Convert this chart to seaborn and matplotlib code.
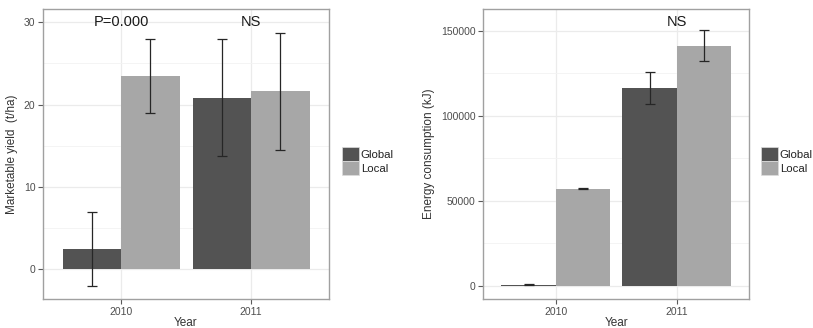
import matplotlib
matplotlib.use("Agg")
import matplotlib.pyplot as plt
from matplotlib.patches import Patch
from matplotlib.ticker import MultipleLocator, FuncFormatter
import seaborn as sns
import pandas as pd

# ---- data ----
years = ["2010", "2011"]
groups = ["Global", "Local"]

yield_global = [2.5, 20.8]
yield_global_lo = [-2.0, 13.7]
yield_global_hi = [7.0, 27.9]
yield_local = [23.5, 21.6]
yield_local_lo = [19.0, 14.5]
yield_local_hi = [27.9, 28.7]
yield_notes = ["P=0.000", "NS"]
yield_note_y = 30

energy_global = [600, 116500]
energy_global_lo = [400, 107100]
energy_global_hi = [800, 125600]
energy_local = [57100, 141100]
energy_local_lo = [56900, 131900]
energy_local_hi = [57300, 150400]
energy_notes = ["", "NS"]
energy_note_y = 155000

colors = {"Global": "#535353", "Local": "#a7a7a7"}

sns.set_theme(style="white")
plt.rcParams["font.family"] = ["Liberation Sans", "DejaVu Sans"]

fig = plt.figure(figsize=(8.13, 3.28), dpi=100)
ax1 = fig.add_axes([43 / 813, 1 - 299 / 328, 286 / 813, 290 / 328])
ax2 = fig.add_axes([483.3 / 813, 1 - 299 / 328, 266 / 813, 290 / 328])


def panel(ax, g, g_lo, g_hi, l, l_lo, l_hi, notes, note_y, ylabel, major, minor,
          legend_x):
    df = pd.DataFrame({
        "Year": years * 2,
        "Group": [groups[0]] * len(years) + [groups[1]] * len(years),
        "value": list(g) + list(l),
    })
    sns.barplot(data=df, x="Year", y="value", hue="Group", order=years,
                hue_order=groups, palette=colors, errorbar=None,
                linewidth=0, saturation=1, width=0.9, ax=ax, zorder=2)
    los = {"Global": g_lo, "Local": l_lo}
    his = {"Global": g_hi, "Local": l_hi}
    for cont, grp in zip(ax.containers, groups):
        for bar, lo, hi in zip(cont.patches, los[grp], his[grp]):
            xc = bar.get_x() + bar.get_width() / 2
            mid = (lo + hi) / 2
            ax.errorbar(xc, mid, yerr=[[mid - lo], [hi - mid]], fmt="none",
                        ecolor="#262626", elinewidth=0.9, capsize=3.6,
                        capthick=0.9, zorder=3)
    for i, t in enumerate(notes):
        if t:
            ax.text(i, note_y, t, ha="center", va="center", fontsize=10.5,
                    color="#1a1a1a", zorder=4)
    # ggplot-like expansion of the y range
    lo_all = min(min(g_lo), min(l_lo), 0, note_y)
    hi_all = max(max(g_hi), max(l_hi), note_y)
    rng = hi_all - lo_all
    ax.set_ylim(lo_all - 0.05 * rng, hi_all + 0.05 * rng)
    ax.set_xlim(-0.6, 1.6)
    ax.yaxis.set_major_locator(MultipleLocator(major))
    ax.yaxis.set_minor_locator(MultipleLocator(minor))
    ax.yaxis.set_major_formatter(FuncFormatter(lambda v, p: f"{v:.0f}"))
    ax.grid(True, which="major", color="#ebebeb", linewidth=0.9, zorder=0)
    ax.grid(True, which="minor", axis="y", color="#f3f3f3", linewidth=0.6,
            zorder=0)
    ax.set_axisbelow(True)
    for s in ax.spines.values():
        s.set_color("#a0a0a0")
        s.set_linewidth(1.0)
    ax.tick_params(axis="both", which="major", length=3.5, width=0.8,
                   color="#5a5a5a", labelsize=7.5, labelcolor="#4d4d4d",
                   pad=2, bottom=True, left=True)
    ax.tick_params(axis="y", which="minor", length=0)
    ax.set_xlabel("Year", fontsize=8.5, color="#333333", labelpad=0.5)
    ax.set_ylabel(ylabel, fontsize=8.5, color="#333333", labelpad=4)
    if ax.get_legend() is not None:
        ax.get_legend().remove()
    handles = [Patch(facecolor=colors[k], edgecolor="#dddddd", linewidth=0.5)
               for k in groups]
    fig.legend(handles, groups, loc="center left",
               bbox_to_anchor=(legend_x / 813, 1 - 161 / 328), frameon=False,
               fontsize=8.2, handlelength=1.5, handleheight=1.5,
               labelspacing=0.0, handletextpad=0.15, borderpad=0,
               borderaxespad=0, labelcolor="#222222")


panel(ax1, yield_global, yield_global_lo, yield_global_hi,
      yield_local, yield_local_lo, yield_local_hi, yield_notes, yield_note_y,
      "Marketable yield  (t/ha)", 10, 5, 342)
panel(ax2, energy_global, energy_global_lo, energy_global_hi,
      energy_local, energy_local_lo, energy_local_hi, energy_notes,
      energy_note_y, "Energy consumption (kJ)", 50000, 25000, 761)

fig.savefig("out.png", dpi=100)
